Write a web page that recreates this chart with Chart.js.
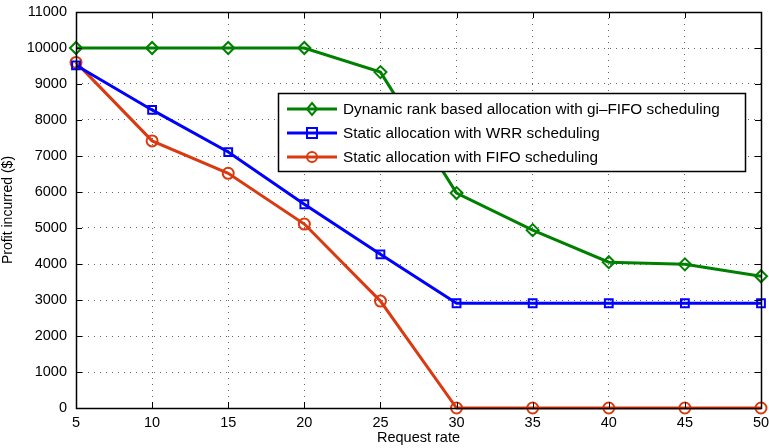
<!DOCTYPE html>
<html>
<head>
<meta charset="utf-8">
<script src="https://cdn.jsdelivr.net/npm/chart.js@4.4.1/dist/chart.umd.min.js"></script>
<style>
    html, body { margin: 0; padding: 0; background: #fff; }
    #wrap { width: 769px; height: 448px; }
</style>
</head>
<body>
<div id="wrap"><canvas id="chart" width="769" height="448"></canvas></div>
<script>
const requestRates = [5, 10, 15, 20, 25, 30, 35, 40, 45, 50];
const dynamicRank = [10000, 10000, 10000, 10000, 9330, 5970, 4940, 4050, 3990, 3660];
const staticWRR = [9520, 8280, 7110, 5660, 4270, 2910, 2910, 2910, 2910, 2910];
const staticFIFO = [9600, 7420, 6520, 5110, 2970, 0, 0, 0, 0, 0];
const yTicks = [0, 1000, 2000, 3000, 4000, 5000, 6000, 7000, 8000, 9000, 10000, 11000];

const FONT = '"Liberation Sans", Arial, Helvetica, sans-serif';

function toPoints(vals) {
    return requestRates.map((x, i) => ({ x: x, y: vals[i] }));
}

function series(label, vals, color, style, radius) {
    return {
        label: label,
        data: toPoints(vals),
        borderColor: color,
        backgroundColor: 'transparent',
        borderWidth: 3,
        pointStyle: style,
        pointRadius: radius,
        pointBorderWidth: 2,
        pointBorderColor: color,
        pointBackgroundColor: 'transparent',
        tension: 0
    };
}

// draws one marker like matlab does (hollow)
function marker(ctx, style, x, y, color) {
    ctx.save();
    ctx.strokeStyle = color;
    ctx.lineWidth = 2;
    ctx.beginPath();
    if (style === 'rectRot') {
        ctx.moveTo(x, y - 6); ctx.lineTo(x + 5, y); ctx.lineTo(x, y + 6); ctx.lineTo(x - 5, y); ctx.closePath();
    } else if (style === 'rect') {
        ctx.rect(x - 5, y - 5, 10, 10);
    } else {
        ctx.arc(x, y, 5, 0, Math.PI * 2);
    }
    ctx.stroke();
    ctx.restore();
}

// frame with inward ticks on all four sides
const framePlugin = {
    id: 'frame',
    afterDraw(chart) {
        const { ctx, chartArea: a, scales } = chart;
        ctx.save();
        ctx.strokeStyle = '#000';
        ctx.lineWidth = 1;
        ctx.beginPath();
        scales.x.ticks.forEach(t => {
            const px = Math.round(scales.x.getPixelForValue(t.value)) + 0.5;
            ctx.moveTo(px, a.bottom); ctx.lineTo(px, a.bottom - 6);
            ctx.moveTo(px, a.top); ctx.lineTo(px, a.top + 6);
        });
        scales.y.ticks.forEach(t => {
            const py = Math.round(scales.y.getPixelForValue(t.value)) + 0.5;
            ctx.moveTo(a.left, py); ctx.lineTo(a.left + 6, py);
            ctx.moveTo(a.right, py); ctx.lineTo(a.right - 6, py);
        });
        ctx.stroke();
        ctx.lineWidth = 1.5;
        ctx.strokeRect(Math.round(a.left) + 0.5, Math.round(a.top) + 0.5,
            Math.round(a.right - a.left), Math.round(a.bottom - a.top));
        ctx.restore();
    }
};

// legend box inside the axes, like the original figure
const boxLegend = {
    id: 'boxLegend',
    afterDraw(chart) {
        const { ctx } = chart;
        const bx = 278, by = 93, bw = 467, bh = 78;
        ctx.save();
        ctx.fillStyle = '#fff';
        ctx.fillRect(bx, by, bw, bh);
        ctx.strokeStyle = '#000';
        ctx.lineWidth = 1.5;
        ctx.strokeRect(bx + 0.5, by + 0.5, bw, bh);
        ctx.font = '15.3px ' + FONT;
        ctx.textBaseline = 'middle';
        chart.data.datasets.forEach((ds, i) => {
            const y = by + 16 + i * 24;
            ctx.strokeStyle = ds.borderColor;
            ctx.lineWidth = 3;
            ctx.beginPath();
            ctx.moveTo(287, y); ctx.lineTo(337, y);
            ctx.stroke();
            marker(ctx, ds.pointStyle, 312, y, ds.borderColor);
            ctx.fillStyle = '#000';
            ctx.fillText(ds.label, 343, y + 1);
        });
        ctx.restore();
    }
};

new Chart(document.getElementById('chart'), {
    type: 'line',
    data: {
        datasets: [
            series('Dynamic rank based allocation with gi\u2013FIFO scheduling', dynamicRank, '#008000', 'rectRot', 6),
            series('Static allocation with WRR scheduling', staticWRR, '#0000ff', 'rect', 5.5),
            series('Static allocation with FIFO scheduling', staticFIFO, '#da3a10', 'circle', 5.5)
        ]
    },
    options: {
        responsive: false,
        animation: false,
        clip: false,
        layout: { padding: { top: 12, right: 7, left: 0, bottom: 0 } },
        plugins: {
            legend: { display: false },
            tooltip: { enabled: false }
        },
        scales: {
            x: {
                type: 'linear',
                min: 5,
                max: 50,
                afterBuildTicks: s => { s.ticks = requestRates.map(v => ({ value: v })); },
                afterFit: s => { s.height = 40; s.paddingLeft = 0; s.paddingRight = 0; },
                ticks: { color: '#000', font: { family: FONT, size: 14.5 }, padding: 6, maxRotation: 0, callback: v => String(v) },
                grid: { color: '#666', lineWidth: 1, drawTicks: false },
                border: { display: false, dash: [1, 5] },
                title: { display: true, text: 'Request rate', color: '#000', font: { family: FONT, size: 14.5 }, padding: { top: 0, bottom: 1 } }
            },
            y: {
                min: 0,
                max: 11000,
                afterBuildTicks: s => { s.ticks = yTicks.map(v => ({ value: v })); },
                afterFit: s => { s.width = 76; s.paddingTop = 0; s.paddingBottom = 0; },
                ticks: { color: '#000', font: { family: FONT, size: 14.5 }, padding: 9, callback: v => String(v) },
                grid: { color: '#666', lineWidth: 1, drawTicks: false },
                border: { display: false, dash: [1, 5] },
                title: { display: true, text: 'Profit incurred ($)', color: '#000', font: { family: FONT, size: 14 }, padding: { top: 0, bottom: 4 } }
            }
        }
    },
    plugins: [framePlugin, boxLegend]
});
</script>
</body>
</html>
